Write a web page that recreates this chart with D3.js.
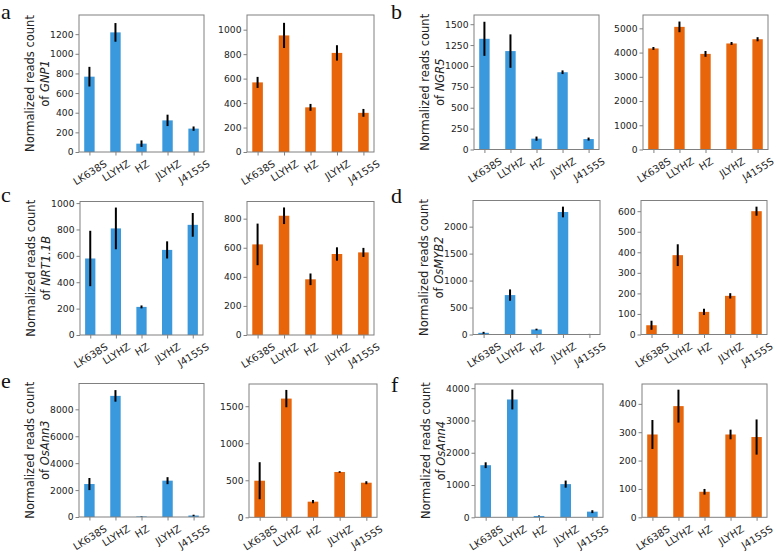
<!DOCTYPE html>
<html><head><meta charset="utf-8">
<script src="https://cdn.jsdelivr.net/npm/d3@7"></script>
<style>body{margin:0;background:#fff} svg{display:block}</style>
</head><body>
<svg id="chart" width="777" height="552"></svg>
<script>
// ---------------- data ----------------
const categories = ["LK638S", "LLYHZ", "HZ", "JLYHZ", "J4155S"];
const panelLetters = ["a", "b", "c", "d", "e", "f"];
const genes = ["GNP1", "NGR5", "NRT1.1B", "OsMYB2", "OsAnn3", "OsAnn4"];

const blueValues = [
  [767, 1218, 85, 322, 238],
  [1325, 1178, 130, 925, 125],
  [580, 808, 213, 645, 835],
  [31, 731, 93, 2272, 6],
  [2450, 9000, 40, 2700, 110],
  [1614, 3650, 41, 1028, 175]
];
const blueErrors = [
  [100, 95, 33, 58, 22],
  [204, 200, 25, 22, 18],
  [210, 158, 11, 65, 90],
  [18, 105, 15, 99, 5],
  [450, 430, 20, 260, 60],
  [90, 308, 12, 110, 45]
];
const orangeValues = [
  [569, 953, 365, 810, 320],
  [4170, 5060, 3945, 4375, 4550],
  [623, 820, 383, 557, 568],
  [45, 386, 110, 188, 600],
  [494, 1603, 211, 612, 467],
  [292, 392, 90, 292, 283]
];
const orangeErrors = [
  [45, 103, 28, 63, 32],
  [60, 220, 120, 60, 85],
  [143, 57, 40, 46, 31],
  [22, 53, 15, 13, 22],
  [250, 117, 22, 10, 20],
  [51, 58, 10, 17, 62]
];
const blueTicks = [
  [0, 200, 400, 600, 800, 1000, 1200],
  [0, 250, 500, 750, 1000, 1250, 1500],
  [0, 200, 400, 600, 800, 1000],
  [0, 500, 1000, 1500, 2000],
  [0, 2000, 4000, 6000, 8000],
  [0, 1000, 2000, 3000, 4000]
];
const orangeTicks = [
  [0, 200, 400, 600, 800, 1000],
  [0, 1000, 2000, 3000, 4000, 5000],
  [0, 200, 400, 600, 800],
  [0, 100, 200, 300, 400, 500, 600],
  [0, 500, 1000, 1500],
  [0, 100, 200, 300, 400]
];
const blueMax = [1395, 1610, 1012, 2485, 9920, 4130];
const orangeMax = [1120, 5550, 918, 652, 1800, 470];

// ---------------- layout (pixels) ----------------
const layout = [
  { letter: [1, 19],   L: [79, 204, 15, 152],     R: [247, 374, 15, 152] },
  { letter: [391, 19], L: [474, 599, 15, 149.5],  R: [643, 768, 15, 149.5] },
  { letter: [1, 202],  L: [80, 203, 201.5, 335],  R: [247, 374, 201.5, 335] },
  { letter: [391, 203],L: [473, 600, 200.5, 334.5], R: [641, 767, 200.5, 334.5] },
  { letter: [1, 388],  L: [79, 204, 383.5, 517],  R: [249, 377, 384, 517.3] },
  { letter: [391, 392],L: [475, 603, 384, 517.3], R: [642, 767, 384, 517.3] }
];

const BLUE = "#3a98dc", ORANGE = "#e8650a", FRAME = "#808080", TXT = "#222";
const FONT = "DejaVu Sans";
const svg = d3.select("#chart");

function drawSub(fr, vals, errs, ticks, ymax, color) {
  const [x0, x1, y0, y1] = fr;
  const x = d3.scaleLinear().domain([-0.4, 4.4]).range([x0, x1]);
  const y = d3.scaleLinear().domain([0, ymax]).range([y1, y0]);
  const g = svg.append("g");
  const bw = x(0.4) - x(0);
  g.selectAll("rect.bar").data(vals).join("rect")
    .attr("x", (d, i) => x(i) - bw / 2).attr("width", bw)
    .attr("y", d => y(d)).attr("height", d => y(0) - y(d))
    .attr("fill", color);
  g.selectAll("line.err").data(vals).join("line")
    .attr("x1", (d, i) => x(i)).attr("x2", (d, i) => x(i))
    .attr("y1", (d, i) => y(d - errs[i])).attr("y2", (d, i) => y(d + errs[i]))
    .attr("stroke", "#000").attr("stroke-width", 2);
  g.append("rect").attr("x", x0).attr("y", y0).attr("width", x1 - x0).attr("height", y1 - y0)
    .attr("fill", "none").attr("stroke", FRAME).attr("stroke-width", 1);
  // y axis
  const ya = g.append("g").attr("transform", `translate(${x0},0)`)
    .call(d3.axisLeft(y).tickValues(ticks).tickSize(3.5).tickPadding(2).tickFormat(d3.format("d")));
  ya.select(".domain").remove();
  ya.selectAll("line").attr("stroke", FRAME);
  ya.selectAll("text").attr("font-family", FONT).attr("font-size", 9.2).attr("fill", TXT);
  // x axis
  const xa = g.append("g").attr("transform", `translate(0,${y1})`)
    .call(d3.axisBottom(x).tickValues(d3.range(categories.length)).tickSize(3.5).tickFormat(i => categories[i]));
  xa.select(".domain").remove();
  xa.selectAll("line").attr("stroke", FRAME);
  const ang = 32, s = Math.sin(ang * Math.PI / 180), c = Math.cos(ang * Math.PI / 180);
  xa.selectAll("text").attr("font-family", FONT).attr("font-size", 10).attr("fill", TXT)
    .attr("text-anchor", "middle").attr("y", 0).attr("dy", "0.36em")
    .each(function () {
      const w = this.getComputedTextLength();
      const h = 7.3;
      const cy = 7.5 + (w * s + h * c) / 2;
      d3.select(this).attr("transform", `translate(0,${cy}) rotate(-${ang})`);
    });
}

layout.forEach((p, k) => {
  drawSub(p.L, blueValues[k], blueErrors[k], blueTicks[k], blueMax[k], BLUE);
  drawSub(p.R, orangeValues[k], orangeErrors[k], orangeTicks[k], orangeMax[k], ORANGE);
  // panel letter
  svg.append("text").attr("x", p.letter[0]).attr("y", p.letter[1])
    .attr("font-family", "Liberation Serif").attr("font-size", 22).attr("fill", "#111")
    .text(panelLetters[k]);
  // y label
  const cx = p.L[0], cy = (p.L[2] + p.L[3]) / 2;
  const lab = svg.append("g").attr("transform", `translate(${cx},${cy}) rotate(-90)`);
  lab.append("text").attr("x", 0).attr("y", -45).attr("text-anchor", "middle")
    .attr("font-family", FONT).attr("font-size", 11.5).attr("fill", TXT)
    .text("Normalized reads count");
  const t2 = lab.append("text").attr("x", 0).attr("y", -30).attr("text-anchor", "middle")
    .attr("font-family", FONT).attr("font-size", 11.5).attr("fill", TXT);
  t2.append("tspan").text("of ");
  t2.append("tspan").attr("font-style", "italic").text(genes[k]);
});
</script>
</body></html>
